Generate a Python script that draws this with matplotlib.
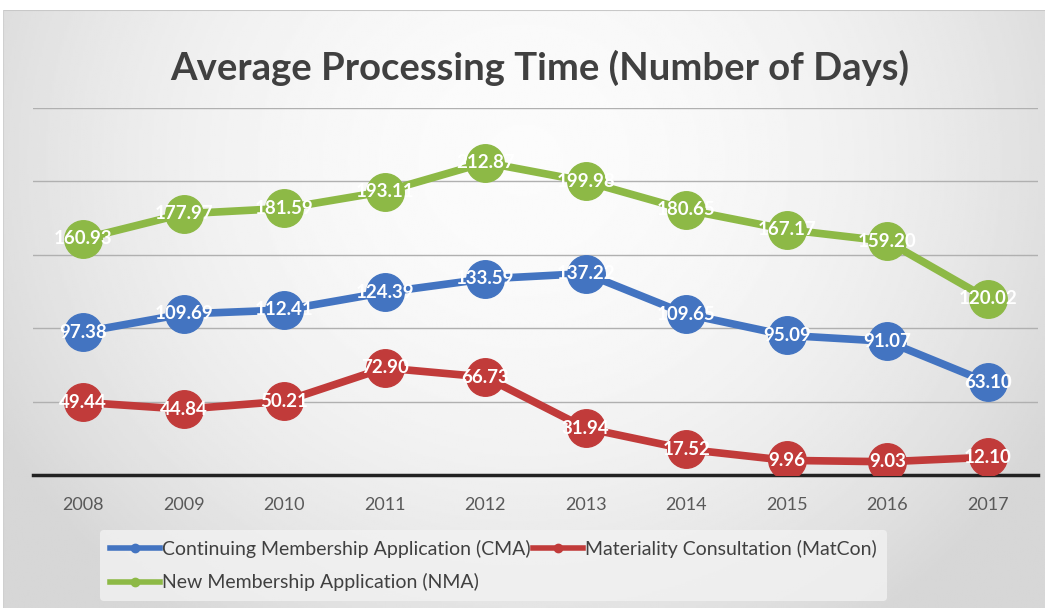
#!/usr/bin/env python3
"""
Average processing time line chart (Excel-style look)
"""

import numpy as np
import matplotlib
matplotlib.use('Agg')
import matplotlib.pyplot as plt
from matplotlib.lines import Line2D

plt.rcParams['font.family'] = ['Lato', 'DejaVu Sans']

# 数据
years = ['2008', '2009', '2010', '2011', '2012', '2013', '2014', '2015', '2016', '2017']
cma = [97.38, 109.69, 112.41, 124.39, 133.59, 137.22, 109.65, 95.09, 91.07, 63.10]
matcon = [49.44, 44.84, 50.21, 72.90, 66.73, 31.94, 17.52, 9.96, 9.03, 12.10]
nma = [160.93, 177.97, 181.59, 193.11, 212.87, 199.98, 180.65, 167.17, 159.20, 120.02]

series_names = ['Continuing Membership Application (CMA)',
                'Materiality Consultation (MatCon)',
                'New Membership Application (NMA)']
colors = ['#4374C1', '#C13B3A', '#8DB946']

W, H = 1045, 608
fig = plt.figure(figsize=(W / 100, H / 100), dpi=100, facecolor='white')

# 背景渐变
bg = fig.add_axes([3 / W, 0, 1 - 3 / W, 1 - 10 / H])
yy, xx = np.mgrid[0:1:300j, 0:1:500j]
r2 = ((xx - 0.5) / 0.55) ** 2 + ((yy - 0.25) / 0.9) ** 2
grad = np.clip(0.985 - 0.13 * r2, 0.84, 1.0)
bg.imshow(grad, cmap='gray', vmin=0, vmax=1, aspect='auto', extent=[0, 1, 0, 1])
bg.set_axis_off()
bg.add_line(Line2D([0, 1], [1, 1], color='#c8c8c8', lw=1.5, transform=bg.transAxes))
bg.add_line(Line2D([0, 0], [0, 1], color='#d0d0d0', lw=1.5, transform=bg.transAxes))

ax = fig.add_axes([33 / W, 1 - 475 / H, (1038 - 33) / W, (475 - 108) / H])
ax.patch.set_alpha(0)
x = np.arange(len(years))

for vals, c in zip([cma, matcon, nma], colors):
    ax.plot(x, vals, color=c, lw=5.5, marker='o', markersize=27,
            solid_capstyle='round', zorder=3)
    for xi, v in zip(x, vals):
        ax.text(xi, v, f'{v:.2f}', color='white', fontsize=13.5, fontweight='bold',
                ha='center', va='center', zorder=4)

ax.set_xlim(-0.5, len(years) - 0.5)
ax.set_ylim(0, 250)
ax.set_yticks([50, 100, 150, 200, 250])
ax.yaxis.grid(True, color='#b0b0b0', lw=1.0)
ax.set_axisbelow(True)
ax.tick_params(left=False, labelleft=False, bottom=False)
ax.set_xticks(x)
ax.set_xticklabels(years, fontsize=13, color='#595959')
ax.tick_params(axis='x', pad=12)
for s in ['top', 'right', 'left']:
    ax.spines[s].set_visible(False)
ax.spines['bottom'].set_color('#222222')
ax.spines['bottom'].set_linewidth(2.5)

fig.text(540 / W, 1 - 68 / H, 'Average Processing Time (Number of Days)',
         ha='center', va='center', fontsize=27.5, fontweight='bold', color='#404040')

# 图例
handles = [Line2D([], [], color=c, lw=4, marker='o', markersize=6) for c in colors]
order = [0, 2, 1]
leg = fig.legend([handles[i] for i in order], [series_names[i] for i in order],
                 ncol=2, loc='upper left', bbox_to_anchor=(100 / W, 1 - 530 / H),
                 fontsize=14, frameon=True, facecolor='#f2f2f2', edgecolor='none',
                 handlelength=2.6, handletextpad=0.1, columnspacing=0.1,
                 labelspacing=0.8, borderaxespad=0, borderpad=0.5)
for t in leg.get_texts():
    t.set_color('#404040')

fig.savefig('out.png', dpi=100, facecolor='white')
